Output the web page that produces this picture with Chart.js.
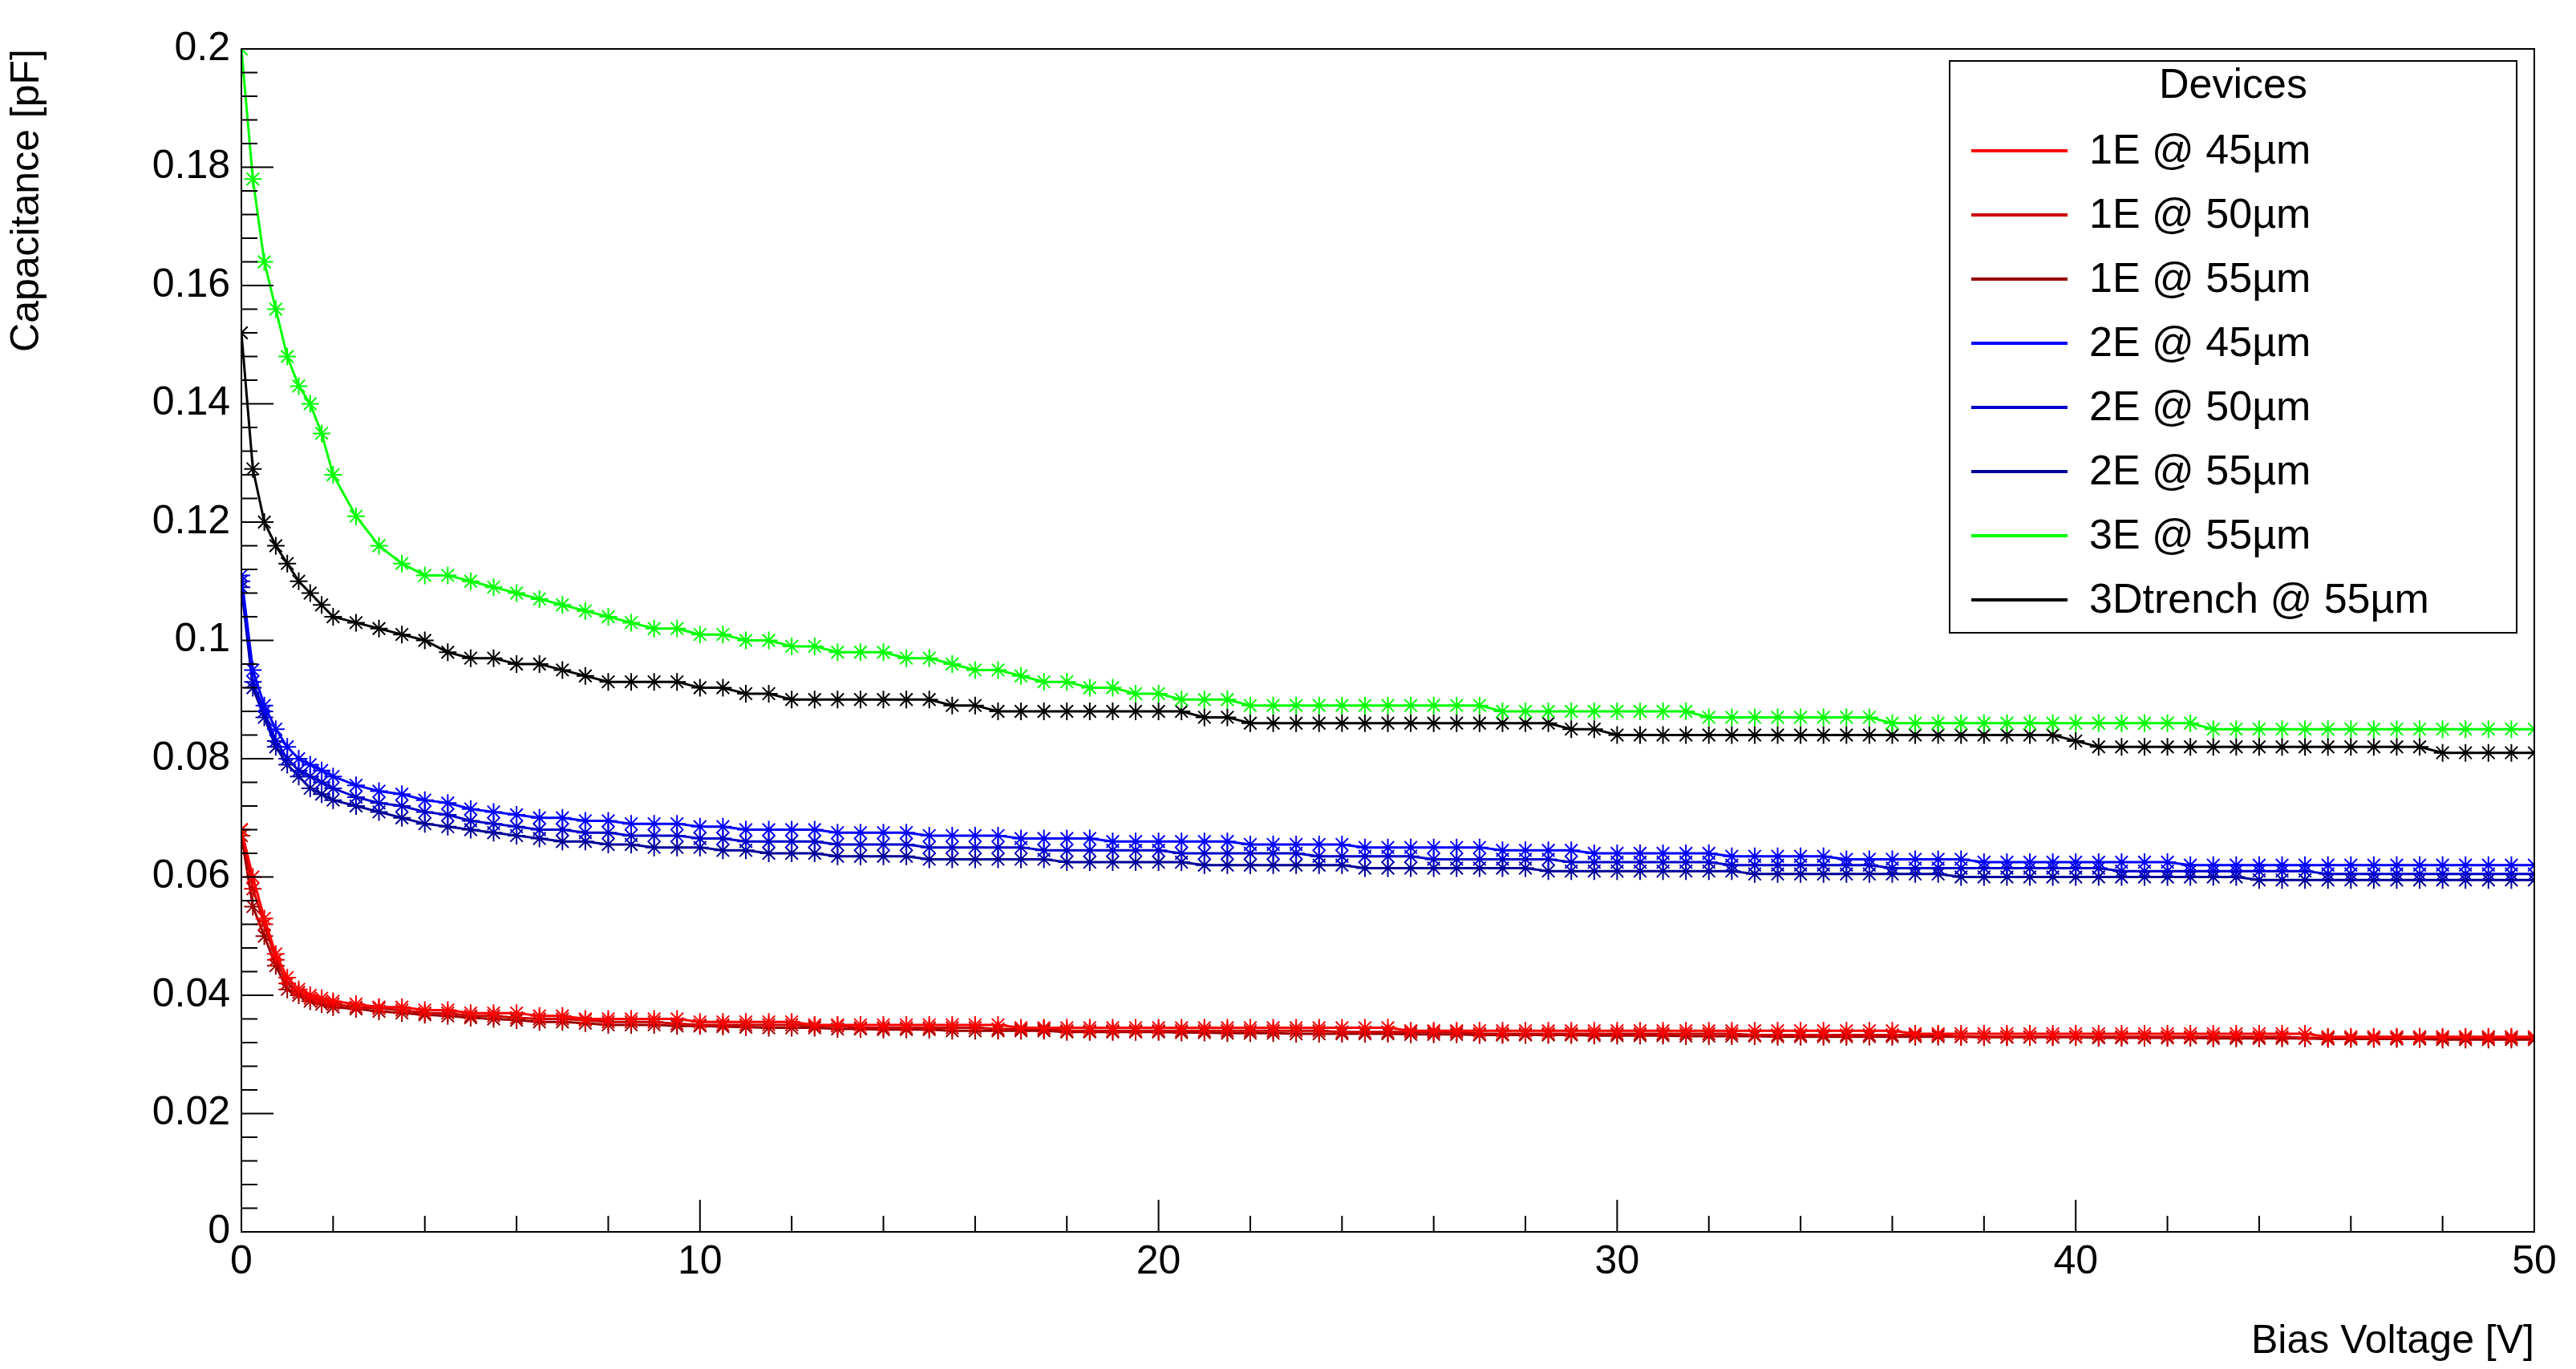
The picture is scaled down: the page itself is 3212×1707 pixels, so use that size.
<!DOCTYPE html>
<html><head><meta charset="utf-8">
<script src="https://cdn.jsdelivr.net/npm/chart.js@4"></script>
<style>html,body{margin:0;padding:0;background:#fff}canvas{display:block}</style>
</head><body>
<canvas id="c" width="3212" height="1707"></canvas>
<script>
// Bias voltage grid [V]
const voltages = [0,0.25,0.5,0.75,1,1.25,1.5,1.75,2,
 2.5,3,3.5,4,4.5,5,5.5,6,6.5,7,7.5,8,8.5,9,9.5,10,
 10.5,11,11.5,12,12.5,13,13.5,14,14.5,15,15.5,16,16.5,17,17.5,18,18.5,19,19.5,20,
 20.5,21,21.5,22,22.5,23,23.5,24,24.5,25,25.5,26,26.5,27,27.5,28,28.5,29,29.5,30,
 30.5,31,31.5,32,32.5,33,33.5,34,34.5,35,35.5,36,36.5,37,37.5,38,38.5,39,39.5,40,
 40.5,41,41.5,42,42.5,43,43.5,44,44.5,45,45.5,46,46.5,47,47.5,48,48.5,49,49.5,50];

const labels = ["1E @ 45µm","1E @ 50µm","1E @ 55µm","2E @ 45µm","2E @ 50µm","2E @ 55µm","3E @ 55µm","3Dtrench @ 55µm"];
const colors = ["#ff0000","#cc0000","#990000","#0000ff","#0000cc","#000099","#00ff00","#000000"];

const c1E45 = [0.068,0.060,0.053,0.047,0.043,0.041,0.040,0.0395,0.039,
 0.0385,0.038,0.038,0.0375,0.0375,0.037,0.037,0.037,0.0365,0.0365,0.036,0.036,0.036,0.036,0.036,0.0355,
 0.0355,0.0355,0.0355,0.0355,0.035,0.035,0.035,0.035,0.035,0.035,0.035,0.035,0.035,0.0345,0.0345,0.0345,0.0345,0.0345,0.0345,0.0345,
 0.0345,0.0345,0.0345,0.0345,0.0345,0.0345,0.0345,0.0345,0.0345,0.0345,0.034,0.034,0.034,0.034,0.034,0.034,0.034,0.034,0.034,0.034,
 0.034,0.034,0.034,0.034,0.034,0.034,0.034,0.034,0.034,0.034,0.034,0.034,0.0335,0.0335,0.0335,0.0335,0.0335,0.0335,0.0335,0.0335,
 0.0335,0.0335,0.0335,0.0335,0.0335,0.0335,0.0335,0.0335,0.0335,0.0335,0.033,0.033,0.033,0.033,0.033,0.033,0.033,0.033,0.033,0.033];
const c1E50 = [0.068,0.058,0.052,0.046,0.042,0.0405,0.0395,0.039,0.0385,
 0.038,0.0378,0.0375,0.037,0.037,0.0365,0.0365,0.0362,0.036,0.036,0.0358,0.0355,0.0355,0.0355,0.0352,0.035,
 0.035,0.035,0.035,0.035,0.0348,0.0348,0.0345,0.0345,0.0345,0.0345,0.0345,0.0345,0.0343,0.0343,0.0343,0.034,0.034,0.034,0.034,0.034,
 0.034,0.034,0.034,0.034,0.034,0.034,0.034,0.0338,0.0338,0.0338,0.0338,0.0338,0.0338,0.0335,0.0335,0.0335,0.0335,0.0335,0.0335,0.0335,
 0.0335,0.0335,0.0335,0.0335,0.0335,0.0333,0.0333,0.0333,0.0333,0.0333,0.0333,0.0333,0.0333,0.0333,0.033,0.033,0.033,0.033,0.033,0.033,
 0.033,0.033,0.033,0.033,0.033,0.033,0.033,0.033,0.033,0.0328,0.0328,0.0328,0.0328,0.0328,0.0328,0.0328,0.0328,0.0328,0.0328,0.0328];
const c1E55 = [0.067,0.055,0.050,0.045,0.041,0.040,0.039,0.0385,0.038,
 0.0377,0.0373,0.037,0.0367,0.0365,0.0362,0.036,0.0358,0.0355,0.0355,0.0353,0.035,0.035,0.035,0.0348,0.0348,
 0.0347,0.0346,0.0345,0.0345,0.0345,0.0343,0.0343,0.0342,0.0342,0.0342,0.034,0.034,0.034,0.034,0.034,0.0338,0.0338,0.0338,0.0338,0.0338,
 0.0337,0.0337,0.0336,0.0336,0.0336,0.0335,0.0335,0.0335,0.0335,0.0335,0.0334,0.0334,0.0334,0.0333,0.0333,0.0333,0.0333,0.0333,0.0332,0.0332,
 0.0332,0.0332,0.0331,0.0331,0.0331,0.0331,0.033,0.033,0.033,0.033,0.033,0.033,0.033,0.033,0.033,0.0329,0.0329,0.0329,0.0329,0.0329,
 0.0328,0.0328,0.0328,0.0328,0.0328,0.0327,0.0327,0.0327,0.0327,0.0327,0.0326,0.0326,0.0326,0.0326,0.0326,0.0325,0.0325,0.0325,0.0325,0.0325];
const c2E45 = [0.111,0.095,0.089,0.085,0.082,0.080,0.079,0.078,0.077,
 0.0755,0.0745,0.074,0.073,0.0725,0.0715,0.071,0.0705,0.070,0.070,0.0695,0.0695,0.069,0.069,0.069,0.0685,
 0.0685,0.068,0.068,0.068,0.068,0.0675,0.0675,0.0675,0.0675,0.067,0.067,0.067,0.067,0.0665,0.0665,0.0665,0.0665,0.066,0.066,0.066,
 0.066,0.066,0.066,0.0655,0.0655,0.0655,0.0655,0.0655,0.065,0.065,0.065,0.065,0.065,0.065,0.0645,0.0645,0.0645,0.0645,0.064,0.064,
 0.064,0.064,0.064,0.064,0.0635,0.0635,0.0635,0.0635,0.0635,0.063,0.063,0.063,0.063,0.063,0.063,0.0625,0.0625,0.0625,0.0625,0.0625,
 0.0625,0.0625,0.0625,0.0625,0.062,0.062,0.062,0.062,0.062,0.062,0.062,0.062,0.062,0.062,0.062,0.062,0.062,0.062,0.062,0.062];
const c2E50 = [0.110,0.093,0.088,0.083,0.080,0.078,0.077,0.076,0.075,
 0.0735,0.0725,0.072,0.071,0.0705,0.0695,0.069,0.0685,0.068,0.068,0.0675,0.0675,0.067,0.067,0.067,0.0665,
 0.0665,0.066,0.066,0.066,0.066,0.0655,0.0655,0.0655,0.0655,0.065,0.065,0.065,0.065,0.065,0.0645,0.0645,0.0645,0.0645,0.0645,0.0645,
 0.064,0.064,0.064,0.064,0.064,0.064,0.0635,0.0635,0.0635,0.0635,0.0635,0.063,0.063,0.063,0.063,0.063,0.063,0.0625,0.0625,0.0625,
 0.0625,0.0625,0.0625,0.0625,0.062,0.062,0.062,0.062,0.062,0.062,0.062,0.0615,0.0615,0.0615,0.0615,0.0615,0.0615,0.0615,0.0615,0.0615,
 0.0615,0.061,0.061,0.061,0.061,0.061,0.061,0.061,0.061,0.061,0.0605,0.0605,0.0605,0.0605,0.0605,0.0605,0.0605,0.0605,0.0605,0.0605];
const c2E55 = [0.109,0.092,0.087,0.082,0.079,0.077,0.075,0.074,0.073,
 0.072,0.071,0.070,0.069,0.0685,0.068,0.0675,0.067,0.0665,0.066,0.066,0.0655,0.0655,0.065,0.065,0.065,
 0.0645,0.0645,0.064,0.064,0.064,0.0635,0.0635,0.0635,0.0635,0.063,0.063,0.063,0.063,0.063,0.063,0.0625,0.0625,0.0625,0.0625,0.0625,
 0.0625,0.062,0.062,0.062,0.062,0.062,0.062,0.062,0.0615,0.0615,0.0615,0.0615,0.0615,0.0615,0.0615,0.0615,0.061,0.061,0.061,0.061,
 0.061,0.061,0.061,0.061,0.061,0.0605,0.0605,0.0605,0.0605,0.0605,0.0605,0.0605,0.0605,0.0605,0.060,0.060,0.060,0.060,0.060,0.060,
 0.060,0.060,0.060,0.060,0.060,0.060,0.060,0.0595,0.0595,0.0595,0.0595,0.0595,0.0595,0.0595,0.0595,0.0595,0.0595,0.0595,0.0595,0.0595];
const c3E55 = [0.200,0.178,0.164,0.156,0.148,0.143,0.140,0.135,0.128,
 0.121,0.116,0.113,0.111,0.111,0.110,0.109,0.108,0.107,0.106,0.105,0.104,0.103,0.102,0.102,0.101,
 0.101,0.100,0.100,0.099,0.099,0.098,0.098,0.098,0.097,0.097,0.096,0.095,0.095,0.094,0.093,0.093,0.092,0.092,0.091,0.091,
 0.090,0.090,0.090,0.089,0.089,0.089,0.089,0.089,0.089,0.089,0.089,0.089,0.089,0.089,0.088,0.088,0.088,0.088,0.088,0.088,
 0.088,0.088,0.088,0.087,0.087,0.087,0.087,0.087,0.087,0.087,0.087,0.086,0.086,0.086,0.086,0.086,0.086,0.086,0.086,0.086,
 0.086,0.086,0.086,0.086,0.086,0.085,0.085,0.085,0.085,0.085,0.085,0.085,0.085,0.085,0.085,0.085,0.085,0.085,0.085,0.085];
const c3D55 = [0.152,0.129,0.120,0.116,0.113,0.110,0.108,0.106,0.104,
 0.103,0.102,0.101,0.100,0.098,0.097,0.097,0.096,0.096,0.095,0.094,0.093,0.093,0.093,0.093,0.092,
 0.092,0.091,0.091,0.090,0.090,0.090,0.090,0.090,0.090,0.090,0.089,0.089,0.088,0.088,0.088,0.088,0.088,0.088,0.088,0.088,
 0.088,0.087,0.087,0.086,0.086,0.086,0.086,0.086,0.086,0.086,0.086,0.086,0.086,0.086,0.086,0.086,0.086,0.085,0.085,0.084,
 0.084,0.084,0.084,0.084,0.084,0.084,0.084,0.084,0.084,0.084,0.084,0.084,0.084,0.084,0.084,0.084,0.084,0.084,0.084,0.083,
 0.082,0.082,0.082,0.082,0.082,0.082,0.082,0.082,0.082,0.082,0.082,0.082,0.082,0.082,0.082,0.081,0.081,0.081,0.081,0.081];
const series = [c1E45,c1E50,c1E55,c2E45,c2E50,c2E55,c3E55,c3D55];

const yTitle = "Capacitance [pF]";
const xTitle = "Bias Voltage [V]";
const legendTitle = "Devices";

const FONT = "'Liberation Sans', Arial, sans-serif";
const PL = 301, PR = 3160, PT = 61, PB = 1536;

const rootStyle = {
  id: 'rootStyle',
  afterDraw(chart) {
    const ctx = chart.ctx, a = chart.chartArea;
    const xs = chart.scales.x, ys = chart.scales.y;
    ctx.save();
    ctx.strokeStyle = '#000'; ctx.lineWidth = 2;
    ctx.strokeRect(a.left, a.top, a.right - a.left, a.bottom - a.top);
    ctx.beginPath();
    for (let i = 0; i <= 50; i++) {
      const v = i * 0.004, y = ys.getPixelForValue(v);
      const len = (i % 5 === 0) ? 40 : 20;
      ctx.moveTo(a.left, y); ctx.lineTo(a.left + len, y);
    }
    for (let i = 0; i <= 25; i++) {
      const v = i * 2, x = xs.getPixelForValue(v);
      const len = (v % 10 === 0) ? 40 : 20;
      ctx.moveTo(x, a.bottom); ctx.lineTo(x, a.bottom - len);
    }
    ctx.stroke();
    // legend
    const lx = 2431, ly = 76, lw = 707, lh = 713;
    ctx.fillStyle = '#fff'; ctx.fillRect(lx, ly, lw, lh);
    ctx.lineWidth = 2; ctx.strokeRect(lx, ly, lw, lh);
    ctx.fillStyle = '#000'; ctx.textBaseline = 'middle';
    ctx.font = '52px ' + FONT; ctx.textAlign = 'center';
    ctx.fillText(legendTitle, lx + lw / 2, 108);
    ctx.textAlign = 'left';
    chart.data.datasets.forEach((ds, i) => {
      const y = 188 + i * 80;
      ctx.strokeStyle = ds.borderColor; ctx.lineWidth = 4;
      ctx.beginPath(); ctx.moveTo(2458, y); ctx.lineTo(2578, y); ctx.stroke();
      ctx.fillText(ds.label, 2605, y + 2);
    });
    ctx.restore();
  }
};

new Chart(document.getElementById('c'), {
  type: 'line',
  data: {
    datasets: series.map((s, i) => ({
      label: labels[i],
      data: voltages.map((v, j) => ({x: v, y: s[j]})),
      borderColor: colors[i], backgroundColor: colors[i],
      borderWidth: 3, pointStyle: 'star', pointRadius: 11, pointBorderWidth: 2,
      pointBorderColor: colors[i], tension: 0, fill: false
    }))
  },
  options: {
    responsive: false, animation: false, devicePixelRatio: 1,
    layout: {padding: {left: 0, top: PT, right: 3212 - PR, bottom: 0}},
    plugins: {legend: {display: false}, tooltip: {enabled: false}},
    scales: {
      x: {
        type: 'linear', min: 0, max: 50,
        grid: {display: false, drawTicks: false}, border: {display: false},
        ticks: {stepSize: 10, color: '#000', font: {size: 50, family: FONT}, padding: 8},
        title: {display: true, text: xTitle, align: 'end', color: '#000', font: {size: 50, family: FONT}, padding: {top: 0}},
        afterFit(s) { s.height = 1707 - PB; }
      },
      y: {
        min: 0, max: 0.2,
        grid: {display: false, drawTicks: false}, border: {display: false},
        ticks: {stepSize: 0.02, color: '#000', font: {size: 50, family: FONT}, padding: 14,
          callback: v => String(Number(v.toFixed(3)))},
        title: {display: true, text: yTitle, align: 'end', color: '#000', font: {size: 50, family: FONT}, padding: {bottom: 10}},
        afterFit(s) { s.width = PL; }
      }
    }
  },
  plugins: [rootStyle]
});
</script>
</body></html>
